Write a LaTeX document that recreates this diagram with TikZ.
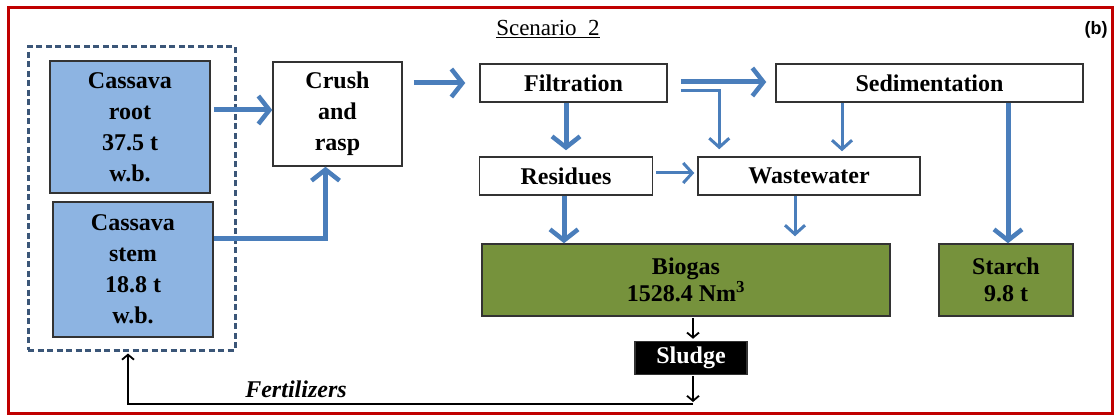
\documentclass[tikz,border=0pt]{standalone}
\usepackage{fontspec}
\setmainfont{Liberation Serif}
\newfontfamily\labsans{Liberation Sans}
\usetikzlibrary{arrows.meta,calc}
\definecolor{arrblue}{HTML}{4A7EBB}
\definecolor{srcblue}{HTML}{8DB4E2}
\definecolor{prodgreen}{HTML}{76923C}
\definecolor{framered}{HTML}{C00000}
\definecolor{dashblue}{HTML}{3B5678}
\begin{document}
\begin{tikzpicture}[x=1pt,y=-1pt,
  box/.style={draw=black!80,line width=1.5pt,inner sep=0pt,align=center,
    font=\bfseries\fontsize{24}{31}\selectfont},
  srcbox/.style={box,fill=srcblue},
  prodbox/.style={box,fill=prodgreen,font=\bfseries\fontsize{24}{27}\selectfont},
  bigarrow/.style={draw=arrblue,line width=5pt,-{Straight Barb[length=11pt,width=28pt,line width=4.5pt]}},
  thinarrow/.style={draw=arrblue,line width=3pt,-{Straight Barb[length=9pt,width=20pt,line width=3pt]}},
  blackarrow/.style={draw=black,line width=1.6pt,-{Straight Barb[length=5pt,width=12pt,line width=1.8pt]}},
  blackline/.style={draw=black,line width=1.6pt}]
\useasboundingbox (0,0) rectangle (1117,417);
\fill[white] (0,0) rectangle (1117,417);
\draw[framered,line width=3pt] (8,8) rectangle (1112,413);

% title and tag
\node[font=\fontsize{23}{26}\selectfont] (scen) at (548,29) {\underline{Scenario\ \ 2}};
\node[font=\labsans\bfseries\fontsize{18}{20}\selectfont] (tag) at (1096,30) {(b)};

% source group
\node[draw=dashblue,dash pattern=on 6pt off 3.5pt,line width=3pt,
  minimum width=207pt,minimum height=303pt,inner sep=0pt] (src) at (131.5,198.5) {};
\node[srcbox,minimum width=160pt,minimum height=132pt] (root) at (130,127)
  {Cassava\\root\\37.5 t\\w.b.};
\node[srcbox,minimum width=160pt,minimum height=135pt] (stem) at (133,269.5)
  {Cassava\\stem\\18.8 t\\w.b.};

% process boxes
\node[box,minimum width=129pt,minimum height=104pt] (crush) at (337.5,114)
  {Crush\\and\\rasp};
\node[box,minimum width=187pt,minimum height=38pt] (filt) at (573.5,83) {Filtration};
\node[box,minimum width=307pt,minimum height=38pt] (sedim) at (929.5,83) {Sedimentation};
\node[box,minimum width=173pt,minimum height=38pt] (resid) at (566,176) {Residues};
\node[box,minimum width=222pt,minimum height=38pt] (waste) at (809,176) {Wastewater};

% products
\node[prodbox,minimum width=408pt,minimum height=72pt] (biogas) at (686,280)
  {Biogas\\1528.4 Nm\textsuperscript{3}};
\node[prodbox,minimum width=134pt,minimum height=72pt] (starch) at (1006,280)
  {Starch\\9.8 t};
\node[box,fill=black,text=white,minimum width=112pt,minimum height=33pt] (sludge) at (691,358) {Sludge};

% connectors
\draw[bigarrow] ($(root.east |- crush.west)+(3,-4)$) -- ($(crush.west)+(0,-4)$);
\draw[bigarrow] ([yshift=31.5pt]stem.east) -| ([xshift=-12pt]crush.south);
\draw[bigarrow] ($(crush.east |- filt.west)+(11,0)$) -- ($(filt.west)+(-14,0)$);
\draw[bigarrow] ($(filt.east)+(13,-1)$) -- ($(sedim.west)+(-9,-1)$);
\draw[thinarrow] ($(filt.east)+(13,8)$) -| ($(waste.north west)+(22,-7)$);
\draw[bigarrow] (resid.north |- filt.south) -- ($(resid.north)+(0,-6)$);
\draw[thinarrow] ($(sedim.south -| waste.north)+(33,0)$) -- ($(waste.north)+(33,-5)$);
\draw[bigarrow] ($(starch.north |- sedim.south)+(2,0)$) -- ($(starch.north)+(2,0)$);
\draw[thinarrow] ($(resid.east)+(3,-3)$) -- ($(waste.west)+(-3,-3)$);
\draw[bigarrow] ($(resid.south)+(-2,0)$) -- ($(biogas.north -| resid.south)+(-2,0)$);
\draw[thinarrow] ($(waste.south)+(-14,0)$) -- ($(biogas.north -| waste.south)+(-14,-7)$);
\draw[blackarrow] ($(biogas.south -| sludge.north)+(2,1)$) -- ($(sludge.north)+(2,-2)$);
\coordinate (fb) at (693,404);
\draw[blackarrow] ($(sludge.south)+(2,1)$) -- ($(fb)+(0,-2)$);
\draw[blackline,-{Straight Barb[length=5pt,width=12pt,line width=1.8pt]}]
  (fb) -| ($(src.south)+(-3.5,2)$);
\node[font=\bfseries\itshape\fontsize{24}{26}\selectfont] (fert) at (296,389) {Fertilizers};
\end{tikzpicture}
\end{document}
